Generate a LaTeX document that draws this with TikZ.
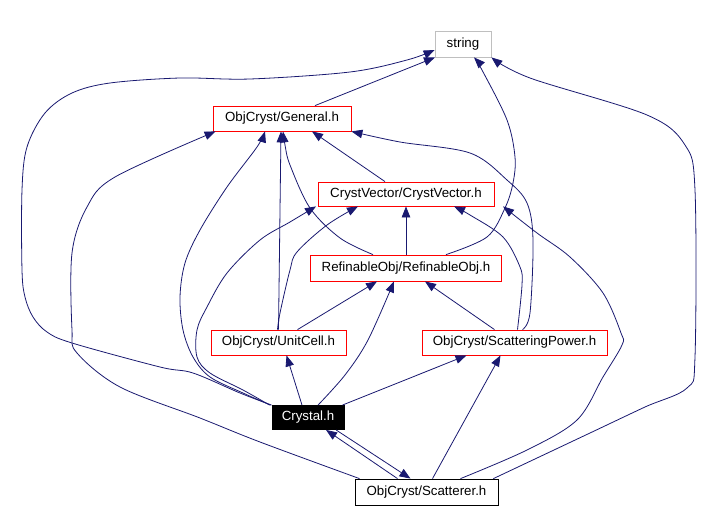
\documentclass[tikz,border=0pt]{standalone}
\usepackage{fontspec}
\setmainfont{Liberation Sans}
\usetikzlibrary{arrows.meta}
\definecolor{edgeblue}{HTML}{191970}
\definecolor{boxred}{HTML}{FF0000}
\definecolor{boxgray}{HTML}{BFBFBF}
\begin{document}
\begin{tikzpicture}[x=1pt,y=-1pt,
  box/.style={draw=boxred, line width=0.8pt, fill=white, inner sep=0pt, minimum height=25pt,
    font=\fontsize{13.3pt}{16pt}\selectfont},
  edge/.style={draw=edgeblue, line width=0.8pt, -{Triangle[length=11pt,width=8.5pt]}},
  curve/.style={edge, smooth, tension=0.55}]
\useasboundingbox (0,0) rectangle (716,512);
% nodes
\node[box, draw=boxgray, minimum width=56pt, minimum height=26pt] (string) at (463,44) {string};
\node[box, minimum width=138pt] (General) at (282,118.5) {ObjCryst/General.h};
\node[box, minimum width=176pt, minimum height=24pt] (CrystVector) at (406,194) {CrystVector/CrystVector.h};
\node[box, minimum width=191pt, minimum height=26pt] (RefinableObj) at (406,268) {RefinableObj/RefinableObj.h};
\node[box, minimum width=135pt] (UnitCell) at (278.5,342.5) {ObjCryst/UnitCell.h};
\node[box, minimum width=185pt] (ScatteringPower) at (514.5,342.5) {ObjCryst/ScatteringPower.h};
\node[box, draw=black, fill=black, text=white, minimum width=72pt, minimum height=24pt] (Crystal) at (308,417.5) {Crystal.h};
\node[box, draw=black, minimum width=143pt, minimum height=26pt] (Scatterer) at (426.5,492) {ObjCryst/Scatterer.h};
% edges into string
\draw[edge] ([xshift=33pt]General.north) -- ([xshift=-28pt]string.south);
\draw[curve] plot coordinates {(Crystal.north west) (240,393) (193,373) (160,367) (72,343) (47,332) (33,317) (25,297) (22,270) (22,190) (27,147) (45,113) (72,93) (110,83) (180,78) (250,79) (350,72) (407,60) ([yshift=-6pt]string.west)};
\draw[curve] plot coordinates {([xshift=-5pt]Scatterer.north east) (590,433) (645,407) (687,388) (695,357) (695,190) (685,145) (647,115) (530,78) (string.south east)};
\draw[curve] plot coordinates {([xshift=40pt]RefinableObj.north) (487,237) (505,208) (513,183) (515,157) (507,120) (482,70) ([xshift=11pt]string.south)};
% edges into General
\draw[edge] ([xshift=-21pt]CrystVector.north) -- ([xshift=30pt]General.south);
\draw[curve] plot coordinates {([xshift=-33pt]RefinableObj.north) (340,238) (310,208) (290,165) (285,145) ([xshift=1pt]General.south)};
\draw[edge] (UnitCell.north) -- ([xshift=-1pt]General.south);
\draw[curve] plot coordinates {([xshift=8pt]ScatteringPower.north) (530,313) (533,240) (527,203) (507,180) (470,153) (400,142) (General.south east)};
\draw[curve] plot coordinates {([xshift=-1pt]Crystal.north west) (243,393) (210,377) (193,357) (183,330) (180,297) (185,263) (200,230) (227,187) (257,147) ([xshift=-17pt]General.south)};
\draw[curve] plot coordinates {([xshift=-67pt]Scatterer.north) (260,442) (200,418) (120,387) (77,353) (72,330) (72,253) (87,207) (115,177) ([xshift=3pt]General.south west)};
% edges into CrystVector
\draw[edge] (RefinableObj.north) -- (CrystVector.south);
\draw[curve] plot coordinates {([xshift=-1pt]UnitCell.north) (280,313) (290,270) (297,252) (327,225) ([xshift=-48pt]CrystVector.south)};
\draw[curve] plot coordinates {([xshift=3pt]ScatteringPower.north) (522,285) (520,267) (503,237) (470,215) ([xshift=48pt]CrystVector.south)};
\draw[curve] plot coordinates {([xshift=-2pt]Crystal.north west) (243,390) (210,373) (197,357) (197,330) (207,307) (227,273) (260,240) (290,222) ([xshift=-90pt]CrystVector.south)};
\draw[curve] plot coordinates {([xshift=34pt]Scatterer.north) (527,450) (577,420) (603,377) (622,345) (621,333) (603,293) (570,257) (537,233) ([xshift=97pt]CrystVector.south)};
% edges into RefinableObj
\draw[edge] ([xshift=19pt]UnitCell.north) -- ([xshift=-29pt]RefinableObj.south);
\draw[edge] ([xshift=-20pt]ScatteringPower.north) -- ([xshift=19pt]RefinableObj.south);
\draw[curve] plot coordinates {([xshift=10pt]Crystal.north) (345,375) (368,340) ([xshift=-12pt]RefinableObj.south)};
% edges into UnitCell / ScatteringPower
\draw[edge] ([xshift=-6pt]Crystal.north) -- ([xshift=8pt]UnitCell.south);
\draw[edge] ([xshift=-2pt]Crystal.north east) -- ([xshift=-48pt]ScatteringPower.south);
\draw[edge] ([xshift=6pt]Scatterer.north) -- ([xshift=-14pt]ScatteringPower.south);
% Crystal <-> Scatterer
\draw[edge] ([xshift=-29pt]Scatterer.north) -- ([xshift=18pt]Crystal.south);
\draw[edge] ([xshift=28pt]Crystal.south) -- ([xshift=-16pt]Scatterer.north);
\end{tikzpicture}
\end{document}
